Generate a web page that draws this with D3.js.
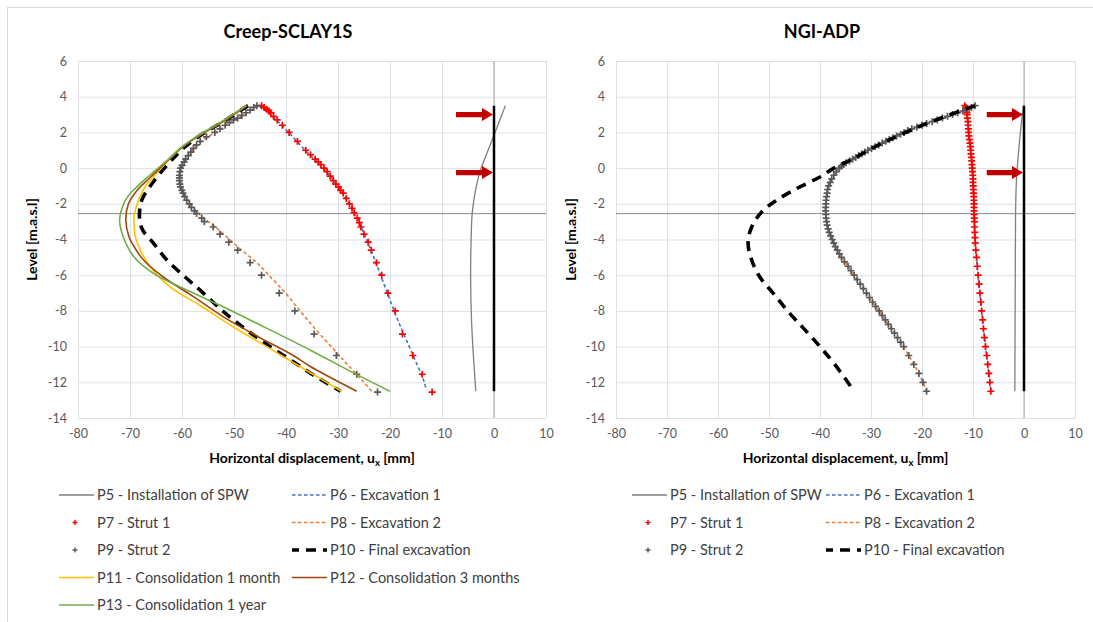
<!DOCTYPE html>
<html>
<head>
<meta charset="utf-8">
<script src="https://cdn.jsdelivr.net/npm/d3@7"></script>
<style>
  body { margin: 0; background: #fff; }
  svg { display: block; font-family: Lato, "Open Sans", sans-serif; }
</style>
</head>
<body>
<svg id="chart" width="1093" height="622"></svg>
<script>
// ---- Axis ticks ----
const xTicks = [-80, -70, -60, -50, -40, -30, -20, -10, 0, 10];
const yTicks = [6, 4, 2, 0, -2, -4, -6, -8, -10, -12, -14];

// ---- Wall geometry and strut levels [m.a.s.l] ----
const wallTop = 3.5;
const wallBottom = -12.5;
const strutLevels = [3.0, -0.25];
const axisCrossLevel = -2.55;

// ---- Creep-SCLAY1S : [ux (mm), level (m)] ----
const sclayP5 = [[2.2,3.5],[0.2,2.0],[-1.4,0.8],[-2.7,-0.2],[-3.65,-1.4],[-4.2,-2.55],[-4.4,-4.05],[-4.5,-6.0],[-4.3,-8.7],[-3.5,-12.5]];
const sclayP6 = [[-45.3,3.5],[-42.6,2.9],[-39.5,2.0],[-36.3,1.0],[-32.8,0.0],[-30.1,-1.0],[-27.9,-2.0],[-26.0,-3.0],[-24.5,-4.0],[-23.1,-5.0],[-21.8,-6.0],[-20.5,-7.0],[-19.2,-8.0],[-17.8,-9.0],[-16.3,-10.0],[-14.8,-11.0],[-13.9,-11.6],[-13.4,-12.0],[-13.0,-12.45]];
const sclayP7 = [[-44.7,3.5],[-44.2,3.4],[-43.7,3.3],[-43.3,3.2],[-42.9,3.1],[-42.4,2.9],[-41.7,2.7],[-40.7,2.4],[-39.4,2.0],[-37.8,1.5],[-36.2,1.0],[-35.3,0.75],[-34.4,0.5],[-33.8,0.35],[-33.3,0.2],[-32.7,0.0],[-32.1,-0.2],[-31.5,-0.45],[-30.9,-0.7],[-30.4,-0.9],[-29.9,-1.05],[-29.5,-1.25],[-29.0,-1.4],[-28.4,-1.7],[-27.8,-2.0],[-27.3,-2.25],[-26.9,-2.5],[-26.3,-2.8],[-25.9,-3.05],[-25.6,-3.3],[-25.0,-3.7],[-24.2,-4.15],[-23.6,-4.6],[-22.6,-5.3],[-21.6,-6.0],[-20.4,-7.0],[-19.0,-8.0],[-17.6,-9.3],[-15.6,-10.5],[-13.8,-11.55],[-11.9,-12.55]];
const sclayP8 = [[-45.4,3.5],[-48.0,3.0],[-51.0,2.5],[-53.6,2.0],[-56.3,1.5],[-58.0,1.0],[-59.2,0.5],[-60.0,0.0],[-60.2,-0.7],[-59.4,-1.5],[-57.9,-2.2],[-55.8,-2.8],[-53.6,-3.3],[-51.2,-3.9],[-48.5,-4.6],[-45.6,-5.3],[-43.3,-6.0],[-40.1,-7.0],[-37.3,-8.0],[-34.4,-9.0],[-31.3,-10.0],[-28.2,-11.0],[-25.0,-12.0],[-23.5,-12.5]];
const sclayP9 = [[-45.6,3.5],[-46.2,3.4],[-46.9,3.25],[-47.7,3.1],[-48.5,2.95],[-49.3,2.8],[-50.1,2.7],[-50.9,2.55],[-51.7,2.4],[-52.7,2.2],[-53.7,2.0],[-55.3,1.75],[-56.5,1.5],[-57.2,1.3],[-57.8,1.1],[-58.3,0.9],[-58.8,0.7],[-59.3,0.5],[-59.6,0.35],[-60.0,0.15],[-60.3,0.0],[-60.4,-0.2],[-60.5,-0.4],[-60.5,-0.55],[-60.5,-0.7],[-60.4,-0.9],[-60.3,-1.05],[-60.0,-1.25],[-59.8,-1.4],[-59.5,-1.6],[-59.1,-1.8],[-58.6,-2.0],[-58.2,-2.2],[-57.6,-2.4],[-57.2,-2.55],[-56.2,-2.8],[-55.7,-3.0],[-54.0,-3.3],[-52.7,-3.7],[-51.0,-4.15],[-49.3,-4.6],[-46.9,-5.3],[-44.7,-6.0],[-41.3,-7.0],[-38.3,-8.0],[-34.6,-9.3],[-30.3,-10.5],[-26.4,-11.55],[-22.4,-12.55]];
const sclayP10 = [[-47.3,3.5],[-52.1,2.6],[-55.6,2.0],[-59.4,1.2],[-62.3,0.35],[-65.2,-0.65],[-67.6,-1.7],[-68.1,-2.25],[-68.1,-3.0],[-67.5,-3.5],[-65.5,-4.2],[-62.9,-5.15],[-59.4,-6.1],[-55.9,-7.0],[-52.4,-7.95],[-48.8,-8.8],[-45.3,-9.55],[-41.5,-10.3],[-37.8,-11.0],[-34.7,-11.6],[-29.5,-12.5]];
const sclayP11 = [[-47.5,3.5],[-52.1,2.6],[-56.5,1.85],[-59.8,1.2],[-62.9,0.35],[-65.5,-0.5],[-67.0,-1.0],[-68.1,-1.6],[-68.7,-2.1],[-69.2,-2.7],[-69.2,-3.3],[-69.0,-3.8],[-68.6,-4.2],[-66.2,-5.5],[-62.3,-6.65],[-56.5,-7.7],[-50.1,-8.9],[-43.7,-10.0],[-35.4,-11.45],[-29.3,-12.5]];
const sclayP12 = [[-47.5,3.5],[-52.1,2.6],[-56.5,1.85],[-59.8,1.2],[-63.0,0.35],[-66.0,-0.5],[-68.5,-1.2],[-70.3,-2.0],[-70.8,-2.9],[-70.2,-3.85],[-69.0,-4.5],[-67.4,-5.15],[-63.6,-6.1],[-57.8,-7.2],[-51.4,-8.45],[-45.0,-9.5],[-38.6,-10.5],[-35.4,-11.1],[-26.4,-12.5]];
const sclayP13 = [[-47.7,3.5],[-52.4,2.6],[-56.8,1.85],[-60.0,1.2],[-62.8,0.45],[-64.2,0.1],[-66.6,-0.5],[-68.7,-1.05],[-70.2,-1.5],[-71.2,-2.0],[-72.0,-2.9],[-71.3,-3.85],[-69.3,-4.95],[-65.5,-5.9],[-59.7,-6.75],[-52.6,-7.7],[-44.9,-8.8],[-35.3,-10.2],[-27.5,-11.4],[-20.0,-12.5]];

// ---- NGI-ADP : [ux (mm), level (m)] ----
const ngiP5 = [[-0.1,3.5],[-0.6,2.3],[-1.1,0.8],[-1.5,-0.8],[-1.65,-2.5],[-1.7,-5.0],[-1.75,-9.0],[-1.8,-12.5]];
const ngiP6 = [[-11.6,3.5],[-11.15,3.0],[-10.85,2.0],[-10.45,1.0],[-10.15,0.0],[-9.95,-1.0],[-9.8,-2.0],[-9.7,-3.0],[-9.55,-4.2],[-9.0,-6.0],[-8.3,-8.0],[-7.55,-10.0],[-6.9,-11.5],[-6.5,-12.5]];
const ngiP7 = [[-11.6,3.5],[-11.4,3.4],[-11.3,3.3],[-11.25,3.2],[-11.2,3.1],[-11.15,3.0],[-11.1,2.8],[-11.0,2.6],[-10.95,2.4],[-10.9,2.2],[-10.85,2.0],[-10.8,1.8],[-10.7,1.6],[-10.6,1.4],[-10.5,1.2],[-10.45,1.0],[-10.4,0.8],[-10.3,0.6],[-10.25,0.4],[-10.2,0.2],[-10.15,0.0],[-10.1,-0.2],[-10.05,-0.4],[-10.0,-0.6],[-10.0,-0.8],[-9.95,-1.0],[-9.9,-1.2],[-9.9,-1.4],[-9.85,-1.6],[-9.85,-1.8],[-9.8,-2.0],[-9.8,-2.2],[-9.8,-2.4],[-9.75,-2.6],[-9.75,-2.8],[-9.7,-3.0],[-9.7,-3.3],[-9.65,-3.6],[-9.6,-3.9],[-9.55,-4.2],[-9.45,-4.6],[-9.3,-5.0],[-9.15,-5.5],[-9.0,-6.0],[-8.8,-6.5],[-8.65,-7.0],[-8.45,-7.5],[-8.3,-8.0],[-8.1,-8.5],[-7.95,-9.0],[-7.75,-9.5],[-7.55,-10.0],[-7.3,-10.5],[-7.1,-11.0],[-6.9,-11.5],[-6.7,-12.0],[-6.5,-12.5]];
const ngiP8 = [[-9.6,3.5],[-14.0,3.0],[-19.1,2.5],[-23.5,2.0],[-27.1,1.5],[-30.6,1.0],[-33.6,0.5],[-36.2,0.0],[-37.7,-0.6],[-38.5,-1.2],[-38.85,-2.0],[-38.85,-2.6],[-38.4,-3.4],[-37.6,-4.0],[-36.2,-4.8],[-34.5,-5.5],[-32.7,-6.25],[-30.9,-7.0],[-29.1,-7.75],[-27.2,-8.5],[-24.8,-9.5],[-22.6,-10.5],[-20.6,-11.5],[-19.1,-12.5]];
const ngiP9 = [[-9.6,3.5],[-10.3,3.4],[-11.2,3.3],[-12.0,3.2],[-13.0,3.1],[-14.0,3.0],[-15.0,2.9],[-16.0,2.8],[-17.0,2.7],[-18.0,2.6],[-19.1,2.5],[-20.0,2.4],[-21.0,2.3],[-22.0,2.2],[-22.8,2.1],[-23.5,2.0],[-24.2,1.9],[-25.0,1.8],[-25.7,1.7],[-26.4,1.6],[-27.1,1.5],[-27.8,1.4],[-28.5,1.3],[-29.2,1.2],[-29.9,1.1],[-30.6,1.0],[-31.2,0.9],[-31.8,0.8],[-32.4,0.7],[-33.0,0.6],[-33.6,0.5],[-34.2,0.4],[-34.9,0.3],[-35.4,0.2],[-35.8,0.1],[-36.2,0.0],[-36.8,-0.2],[-37.3,-0.4],[-37.7,-0.6],[-38.0,-0.8],[-38.3,-1.0],[-38.5,-1.2],[-38.6,-1.4],[-38.7,-1.6],[-38.8,-1.8],[-38.85,-2.0],[-38.9,-2.2],[-38.9,-2.4],[-38.85,-2.6],[-38.8,-2.8],[-38.7,-3.0],[-38.6,-3.2],[-38.4,-3.4],[-38.2,-3.6],[-37.9,-3.8],[-37.6,-4.0],[-37.3,-4.2],[-37.0,-4.4],[-36.6,-4.6],[-36.2,-4.8],[-35.8,-5.0],[-35.2,-5.25],[-34.5,-5.5],[-33.9,-5.75],[-33.3,-6.0],[-32.7,-6.25],[-32.1,-6.5],[-31.5,-6.75],[-30.9,-7.0],[-30.3,-7.25],[-29.7,-7.5],[-29.1,-7.75],[-28.4,-8.0],[-27.8,-8.25],[-27.2,-8.5],[-26.6,-8.75],[-26.0,-9.0],[-25.4,-9.25],[-24.8,-9.5],[-24.2,-9.75],[-23.6,-10.0],[-22.6,-10.5],[-21.6,-11.0],[-20.6,-11.5],[-19.8,-12.0],[-19.1,-12.5]];
const ngiP10 = [[-9.6,3.5],[-19.1,2.5],[-24.3,1.85],[-28.5,1.3],[-33.0,0.6],[-34.8,0.35],[-37.3,0.0],[-40.0,-0.5],[-44.6,-1.15],[-48.5,-1.8],[-51.4,-2.45],[-53.4,-3.3],[-54.1,-4.2],[-53.4,-5.15],[-51.8,-6.1],[-49.2,-7.0],[-46.2,-8.05],[-43.3,-8.95],[-40.0,-10.0],[-37.1,-11.0],[-33.3,-12.5]];

// ---- Legend labels ----
const labels = {
  P5: "P5 - Installation of SPW",
  P6: "P6 - Excavation 1",
  P7: "P7 - Strut 1",
  P8: "P8 - Excavation 2",
  P9: "P9 - Strut 2",
  P10: "P10 - Final excavation",
  P11: "P11 - Consolidation 1 month",
  P12: "P12 - Consolidation 3 months",
  P13: "P13 - Consolidation 1 year"
};

// ---- Series styling ----
const styles = {
  P5:  { type: "line",   color: "#7f7f7f", width: 1.3 },
  P6:  { type: "line",   color: "#4472c4", width: 1.6, dash: "3.5,2.5" },
  P7:  { type: "marker", color: "#ff0000" },
  P8:  { type: "line",   color: "#ed7d31", width: 1.6, dash: "3.5,2.5" },
  P9:  { type: "marker", color: "#595959" },
  P10: { type: "line",   color: "#000000", width: 3.6, dash: "10,7" },
  P11: { type: "line",   color: "#ffc000", width: 1.6 },
  P12: { type: "line",   color: "#9e480e", width: 1.6 },
  P13: { type: "line",   color: "#70ad47", width: 1.6 }
};

const svg = d3.select("#chart");
const plotTop = 61, plotBottom = 418;
const tickText = d => String(d);

// outer chart frame
svg.append("rect").attr("x", 7.5).attr("y", 7.5).attr("width", 1100).attr("height", 630)
  .attr("fill", "none").attr("stroke", "#d9d9d9");

const plusPath = s => `M${-s},0H${s}M0,${-s}V${s}`;

function drawPanel(cfg) {
  const g = svg.append("g");
  const x = d3.scaleLinear().domain([-80, 10]).range([cfg.left, cfg.right]);
  const y = d3.scaleLinear().domain([-14, 6]).range([plotBottom, plotTop]);

  // gridlines
  const gx = g.append("g").attr("transform", `translate(0,${plotBottom})`)
    .call(d3.axisBottom(x).tickValues(xTicks).tickSize(-(plotBottom - plotTop)).tickFormat(""));
  const gy = g.append("g").attr("transform", `translate(${cfg.left},0)`)
    .call(d3.axisLeft(y).tickValues(yTicks).tickSize(-(cfg.right - cfg.left)).tickFormat(""));
  [gx, gy].forEach(a => {
    a.select(".domain").remove();
    a.selectAll("line").attr("stroke", "#dde1e7").attr("stroke-width", 1);
  });

  // tick labels
  const lx = g.append("g").attr("transform", `translate(0,${plotBottom + 11})`)
    .call(d3.axisBottom(x).tickValues(xTicks).tickFormat(tickText).tickSize(0).tickPadding(0));
  const ly = g.append("g").attr("transform", `translate(${cfg.left - 11},0)`)
    .call(d3.axisLeft(y).tickValues(yTicks).tickFormat(tickText).tickSize(0).tickPadding(0));
  [lx, ly].forEach(a => {
    a.select(".domain").remove();
    a.selectAll("text").attr("fill", "#595959").style("font-size", "12.5px")
      .style("font-family", "Lato, 'Open Sans', sans-serif");
  });

  // axis lines crossing inside the plot
  g.append("line").attr("x1", x(0)).attr("x2", x(0)).attr("y1", plotTop).attr("y2", plotBottom)
    .attr("stroke", "#a6a6a6").attr("stroke-width", 1);
  g.append("line").attr("x1", cfg.left).attr("x2", cfg.right)
    .attr("y1", y(axisCrossLevel)).attr("y2", y(axisCrossLevel))
    .attr("stroke", "#8c8c8c").attr("stroke-width", 1);

  // series
  const line = d3.line().x(d => x(d[0])).y(d => y(d[1])).curve(d3.curveCatmullRom.alpha(0.5));
  cfg.series.forEach(s => {
    const st = styles[s.key];
    if (st.type === "line") {
      g.append("path").datum(s.data).attr("d", line)
        .attr("fill", "none").attr("stroke", st.color).attr("stroke-width", st.width)
        .attr("stroke-dasharray", st.dash || null);
    } else {
      g.append("g").selectAll("path").data(s.data).join("path")
        .attr("transform", d => `translate(${x(d[0])},${y(d[1])})`)
        .attr("d", plusPath(3.5)).attr("stroke", st.color).attr("stroke-width", 1.7).attr("fill", "none");
    }
    if (s.key === "P5") {
      // sheet pile wall
      g.append("line").attr("x1", x(0)).attr("x2", x(0)).attr("y1", y(wallTop)).attr("y2", y(wallBottom))
        .attr("stroke", "#000").attr("stroke-width", 2.5);
    }
  });

  // strut arrows
  strutLevels.forEach(lv => {
    const x0 = x(-7.3), tip = x(0) - 1, yy = y(lv), head = 11;
    g.append("path")
      .attr("d", `M${x0},${yy - 2.6}H${tip - head}V${yy - 6.5}L${tip},${yy}L${tip - head},${yy + 6.5}V${yy + 2.6}H${x0}Z`)
      .attr("fill", "#c00000");
  });

  // titles
  g.append("text").attr("x", cfg.titleX).attr("y", 38).attr("text-anchor", "middle")
    .style("font-size", "18px").style("font-weight", "bold").attr("fill", "#000").text(cfg.title);
  g.append("text").attr("transform", `translate(${cfg.yTitleX},${(plotTop + plotBottom) / 2}) rotate(-90)`)
    .attr("text-anchor", "middle").style("font-size", "14px").style("font-weight", "bold").attr("fill", "#000")
    .text("Level [m.a.s.l]");
  const xt = g.append("text").attr("x", (cfg.left + cfg.right) / 2).attr("y", 463).attr("text-anchor", "middle")
    .style("font-size", "14px").style("font-weight", "bold").attr("fill", "#000");
  xt.append("tspan").text("Horizontal displacement, u");
  xt.append("tspan").attr("dy", 3).style("font-size", "9.5px").text("x");
  xt.append("tspan").attr("dy", -3).text(" [mm]");

  // legend
  const leg = g.append("g");
  cfg.legend.forEach((item, i) => {
    const col = i % 2, row = Math.floor(i / 2);
    const sx = cfg.legendCols[col], yy = cfg.legendTop + row * 27.5;
    const st = styles[item];
    if (st.type === "line") {
      leg.append("line").attr("x1", sx).attr("x2", sx + 35).attr("y1", yy).attr("y2", yy)
        .attr("stroke", st.color).attr("stroke-width", st.width)
        .attr("stroke-dasharray", st.dash || null)
        .attr("stroke-dashoffset", item === "P10" ? 3 : 0);
    } else {
      leg.append("path").attr("transform", `translate(${sx + 16},${yy})`).attr("d", plusPath(2.5))
        .attr("stroke", st.color).attr("stroke-width", 1.4);
    }
    leg.append("text").attr("x", sx + 38).attr("y", yy).attr("dy", "0.35em")
      .style("font-size", "14.5px").attr("fill", "#404040").text(labels[item]);
  });
}

drawPanel({
  left: 78, right: 546, title: "Creep-SCLAY1S", titleX: 288, yTitleX: 37,
  series: [
    { key: "P5", data: sclayP5 }, { key: "P6", data: sclayP6 }, { key: "P7", data: sclayP7 },
    { key: "P8", data: sclayP8 }, { key: "P9", data: sclayP9 }, { key: "P10", data: sclayP10 },
    { key: "P11", data: sclayP11 }, { key: "P12", data: sclayP12 }, { key: "P13", data: sclayP13 }
  ],
  legend: ["P5", "P6", "P7", "P8", "P9", "P10", "P11", "P12", "P13"],
  legendCols: [59, 292], legendTop: 495
});

drawPanel({
  left: 616, right: 1075, title: "NGI-ADP", titleX: 822, yTitleX: 576,
  series: [
    { key: "P5", data: ngiP5 }, { key: "P6", data: ngiP6 }, { key: "P7", data: ngiP7 },
    { key: "P8", data: ngiP8 }, { key: "P9", data: ngiP9 }, { key: "P10", data: ngiP10 }
  ],
  legend: ["P5", "P6", "P7", "P8", "P9", "P10"],
  legendCols: [632, 826], legendTop: 495
});
</script>
</body>
</html>
